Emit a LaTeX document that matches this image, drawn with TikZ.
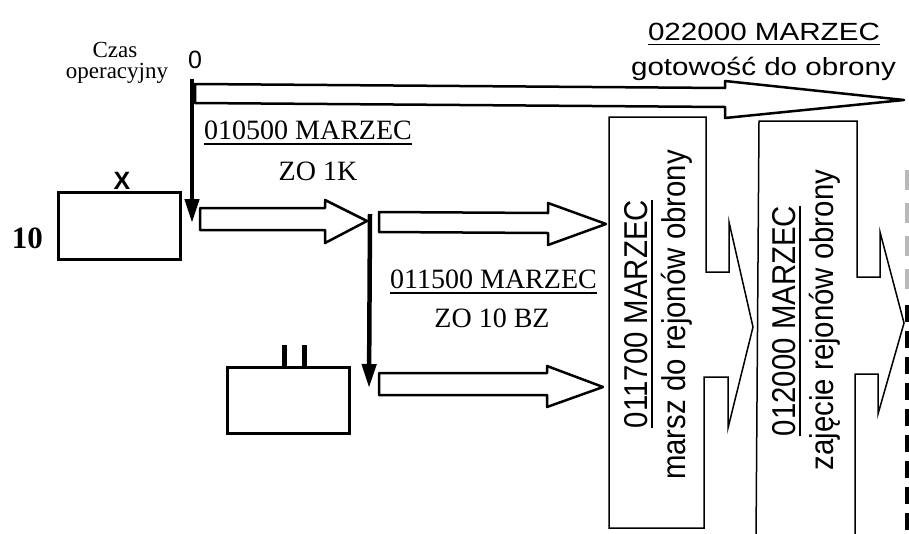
\documentclass[tikz,border=0pt]{standalone}
\usepackage{fontspec}
\setmainfont{Liberation Serif}
\setsansfont{Liberation Sans}
\usepackage{graphicx}
\usetikzlibrary{arrows.meta}
\newcommand\sqh[1]{\scalebox{1}[0.84]{#1}}
\newcommand\sqv[1]{\scalebox{0.89}[1]{#1}}
\newcommand\myul[1]{\vtop{\hbox{#1}\kern4pt\hrule height1.3pt}}
\begin{document}
\begin{tikzpicture}[x=1pt,y=-1pt,
  serifl/.style={font=\rmfamily\fontsize{28}{32}\selectfont, inner sep=0, anchor=base},
  serifs/.style={font=\rmfamily\fontsize{23}{26}\selectfont, inner sep=0, anchor=base},
  sansl/.style={font=\sffamily\fontsize{29.6}{34}\selectfont, inner sep=0, anchor=base},
  sansv/.style={font=\sffamily\fontsize{33}{38}\selectfont, inner sep=0, anchor=base, rotate=90},
  unitbox/.style={draw, line width=3pt, inner sep=0},
  blockarrow/.style={draw, line width=2.5pt, line join=round},
  tallbox/.style={draw, line width=1.5pt, line join=miter},
  timeline/.style={line width=4.5pt, -{Triangle[width=14pt,length=24pt]}},
  tick/.style={line width=4.5pt},
]
\useasboundingbox (0,0) rectangle (909,533);
\clip (0,0) rectangle (909,533);
\fill[white] (0,0) rectangle (909,533);

% labels
\node[serifs] (czas) at (115,57) {Czas};
\node[serifs] (oper) at (117,78) {operacyjny};
\node[font=\sffamily\fontsize{25}{30}\selectfont, inner sep=0, anchor=base] (zero) at (195,68) {0};
\node[sansl] (t22) at (764,40) {\sqh{\myul{022000 MARZEC}}};
\node[sansl] (tgot) at (763.5,75) {\sqh{gotowość do obrony}};
\node[serifl] (t105) at (308,139) {\myul{010500 MARZEC}};
\node[serifl] (zo1k) at (318,180) {ZO 1K};
\node[serifl] (t115) at (493.5,288) {\myul{011500 MARZEC}};
\node[serifl] (zo10) at (492,327) {ZO 10 BZ};
\node[font=\rmfamily\bfseries\fontsize{31}{36}\selectfont, inner sep=0, anchor=base] (ten) at (27.5,248) {10};
\node[font=\sffamily\bfseries\fontsize{25}{28}\selectfont, inner sep=0, anchor=base] (xlbl) at (122,189) {X};

% unit boxes
\node[unitbox, minimum width=122pt, minimum height=67pt] (bde) at (119,225.5) {};
\node[unitbox, minimum width=122pt, minimum height=66pt] (bn) at (288,400) {};
\draw[tick] (284.5,345) -- (284.5,367);
\draw[tick] (304.5,345) -- (304.5,367);

% big arrow
\draw[blockarrow] (195,84) -- (725,88) -- (725,81) -- (904,100) -- (725,118) -- (725,107) -- (195,103) -- cycle;
% small block arrows
\draw[blockarrow] (200,208) -- (325,208) -- (325,200) -- (367,221) -- (325,243) -- (325,230) -- (200,230) -- cycle;
\draw[blockarrow] (379,212) -- (548,213) -- (548,203) -- (606,224) -- (548,245) -- (548,233) -- (379,232) -- cycle;
\draw[blockarrow] (379,373) -- (547,373) -- (547,366) -- (603,387) -- (547,407) -- (547,395) -- (379,395) -- cycle;

% tall boxes
\draw[tallbox] (609,117) -- (706,117) -- (706,272) -- (729,272) -- (729,222) -- (753,327) -- (728,428) -- (728,377) -- (704,377) -- (704,528) -- (609,528) -- cycle;
\draw[tallbox] (855,540) -- (855,374) -- (878,374) -- (878,414) -- (904,323) -- (880,232) -- (880,277) -- (857,277) -- (857,121) -- (759,121) -- (756,540);

\node[sansv] (v1a) at (647,314) {\sqv{\myul{011700 MARZEC}}};
\node[sansv] (v1b) at (685,315) {\sqv{marsz do rejonów obrony}};
\node[sansv] (v2a) at (795,321) {\sqv{\myul{012000 MARZEC}}};
\node[sansv] (v2b) at (833,320) {\sqv{zajęcie rejonów obrony}};

% time lines
\coordinate (a0) at (192,79);
\coordinate (a1) at (192,223);
\draw[timeline] (a0) -- (a1);
\coordinate (b0) at (370,214);
\coordinate (b1) at (369,388);
\draw[timeline] (b0) -- (b1);

% dashed boundary
\draw[line width=4.5pt, gray!55, dash pattern=on 20pt off 13pt] (907,170) -- (907,290);
\draw[line width=4.5pt, dash pattern=on 17pt off 9pt] (907,305) -- (907,540);
\end{tikzpicture}
\end{document}
